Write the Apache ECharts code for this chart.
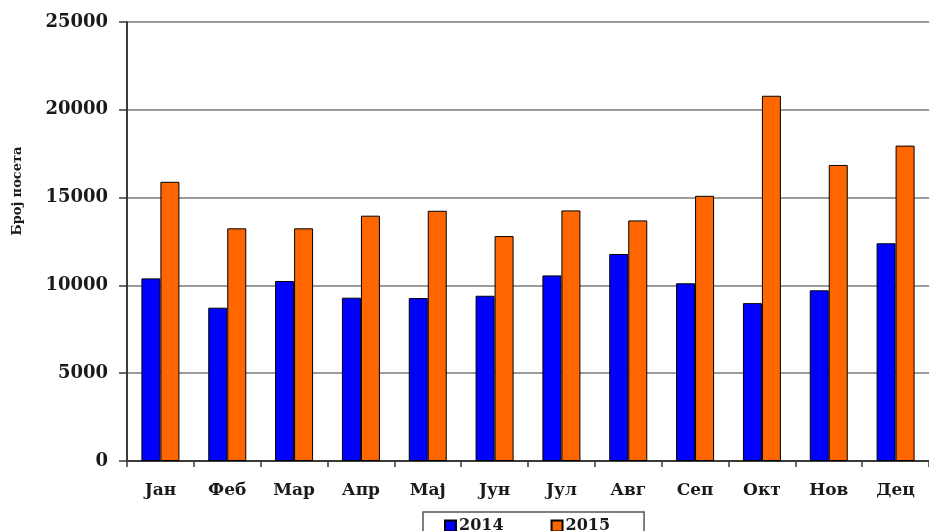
<!DOCTYPE html>
<html>
<head>
<meta charset="utf-8">
<script src="https://cdn.jsdelivr.net/npm/echarts@6/dist/echarts.min.js"></script>
<style>
  html, body { margin: 0; padding: 0; background: #ffffff; }
  #chart { width: 929px; height: 531px; }
</style>
</head>
<body>
<div id="chart"></div>
<script>
// Monthly visits, 2014 vs 2015
const months = ['Јан', 'Феб', 'Мар', 'Апр', 'Мај', 'Јун', 'Јул', 'Авг', 'Сеп', 'Окт', 'Нов', 'Дец'];
const visits2014 = [10400, 8730, 10250, 9300, 9280, 9410, 10570, 11790, 10120, 8990, 9720, 12400];
const visits2015 = [15900, 13250, 13250, 13970, 14250, 12810, 14270, 13700, 15100, 20800, 16860, 17960];
const seriesNames = ['2014', '2015'];
const yTitle = 'Број посета';

const serif = '"DejaVu Serif", "Liberation Serif", serif';
const ink = '#1a1a1a';

const chart = echarts.init(document.getElementById('chart'), null, { renderer: 'canvas' });

chart.setOption({
  backgroundColor: '#ffffff',
  animation: false,
  grid: { left: 127, top: 22, bottom: 70, width: 808 },
  legend: {
    left: 423,
    top: 512,
    padding: [6, 34, 6, 21],
    itemGap: 47,
    itemWidth: 11,
    itemHeight: 11,
    borderColor: '#555555',
    borderWidth: 1.5,
    backgroundColor: '#ffffff',
    data: seriesNames.map(n => ({ name: n, icon: 'rect' })),
    textStyle: { fontFamily: serif, fontWeight: 'bold', fontSize: 16, color: ink, padding: [0, 0, 0, -2] }
  },
  xAxis: {
    type: 'category',
    data: months,
    boundaryGap: true,
    axisLine: { lineStyle: { color: '#3a3a3a', width: 2 } },
    axisTick: { show: true, length: 6, lineStyle: { color: '#3a3a3a', width: 1.5 } },
    axisLabel: { margin: 21, fontFamily: serif, fontWeight: 'bold', fontSize: 17, color: ink }
  },
  yAxis: {
    type: 'value',
    min: 0,
    max: 25000,
    interval: 5000,
    axisLine: { show: true, lineStyle: { color: '#3a3a3a', width: 2 } },
    axisTick: { show: true, length: 8, lineStyle: { color: '#3a3a3a', width: 1.5 } },
    splitLine: { show: true, lineStyle: { color: '#7a7a7a', width: 1.5 } },
    axisLabel: {
      margin: 19,
      formatter: v => String(v),
      fontFamily: serif,
      fontWeight: 'bold',
      fontSize: 18,
      color: ink
    }
  },
  graphic: [{
    type: 'text',
    x: 18,
    y: 191,
    rotation: Math.PI / 2,
    style: {
      text: yTitle,
      fontFamily: serif,
      fontWeight: 'bold',
      fontSize: 13,
      fill: ink,
      textAlign: 'center',
      textVerticalAlign: 'middle'
    }
  }],
  series: [
    {
      name: seriesNames[0],
      type: 'bar',
      data: visits2014,
      barWidth: 19,
      barGap: '0%',
      itemStyle: { color: '#0000ff', borderColor: '#000000', borderWidth: 1 }
    },
    {
      name: seriesNames[1],
      type: 'bar',
      data: visits2015,
      barWidth: 19,
      barGap: '0%',
      itemStyle: { color: '#ff6600', borderColor: '#000000', borderWidth: 1 }
    }
  ]
});
</script>
</body>
</html>
